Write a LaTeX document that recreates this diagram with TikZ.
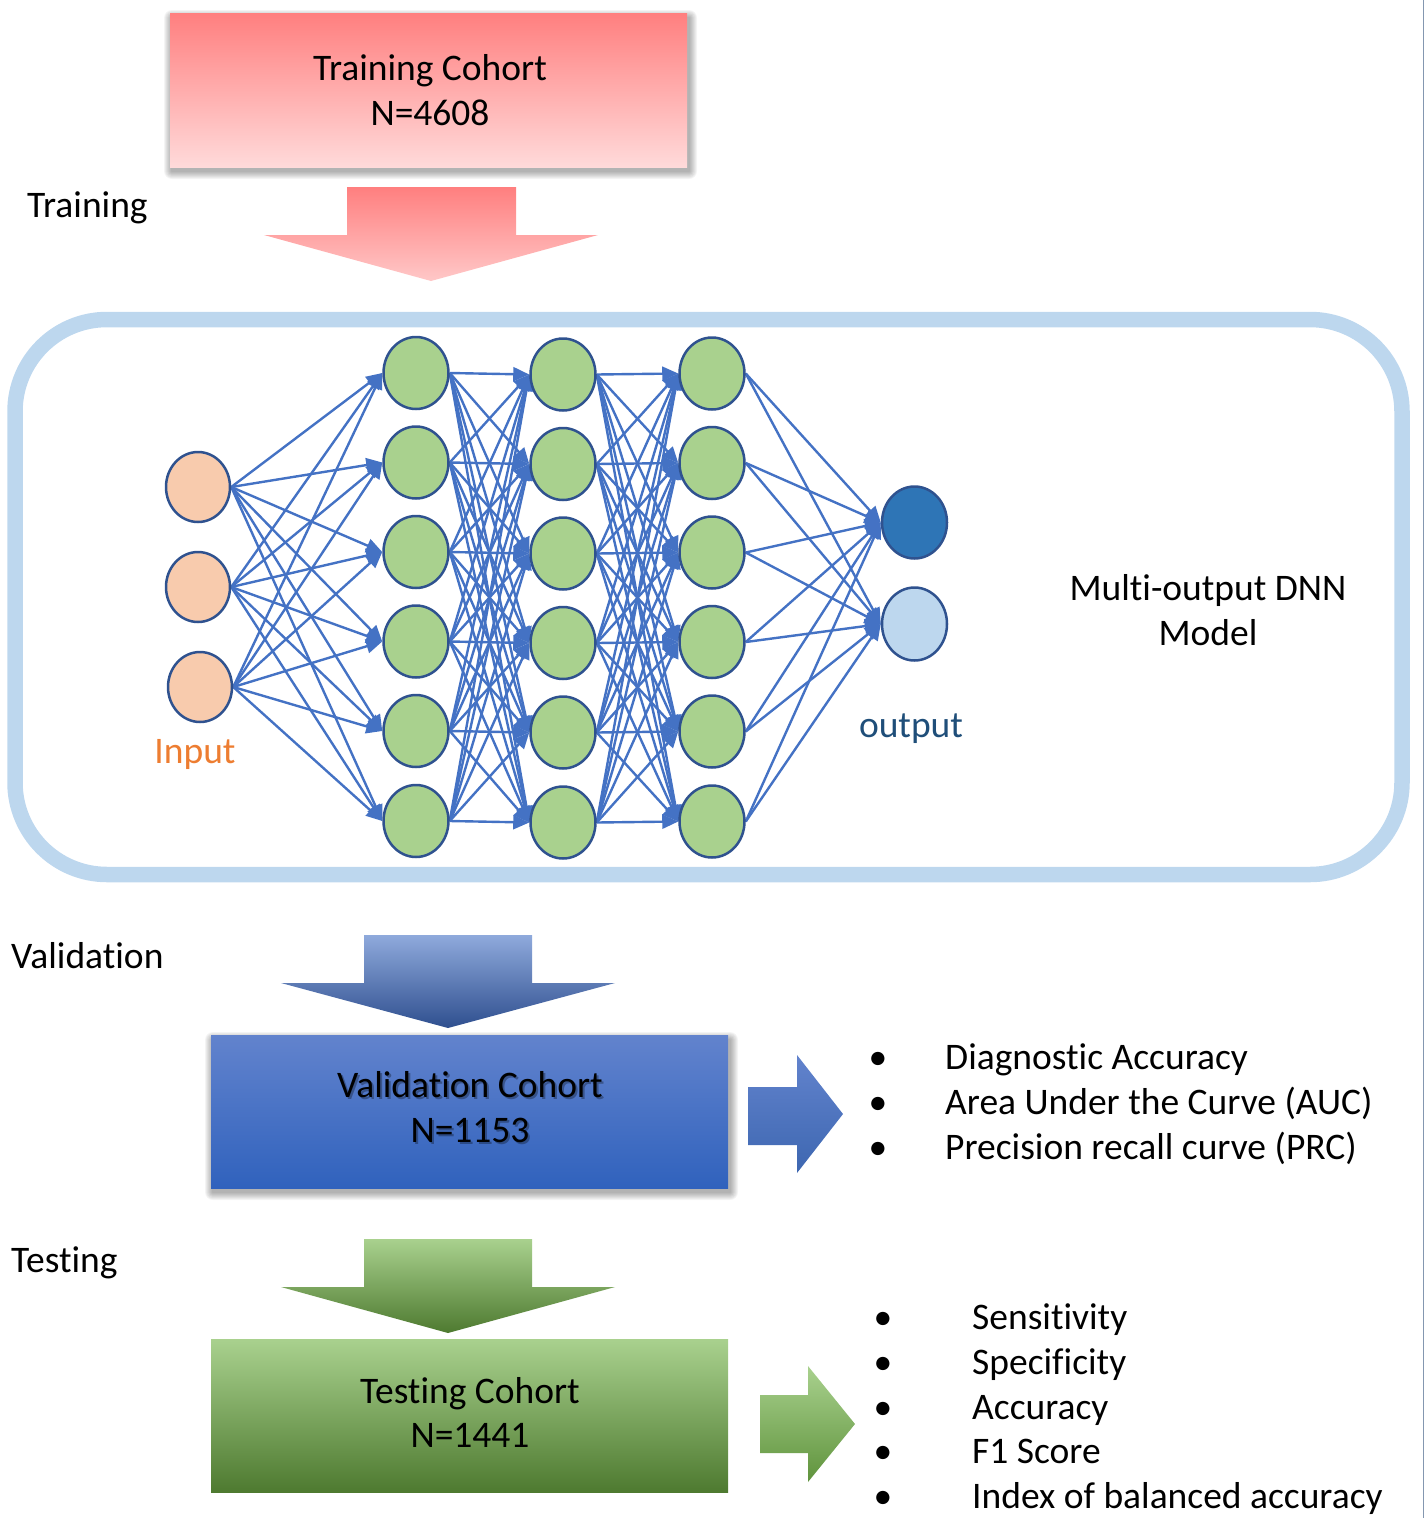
\documentclass[tikz,border=0pt]{standalone}
\usepackage{fontspec}
\setmainfont{Carlito}[Ligatures=NoCommon]
\usetikzlibrary{shapes.geometric,arrows.meta}

\definecolor{edgeblue}{HTML}{4472C4}
\definecolor{ringblue}{HTML}{2F528F}
\definecolor{inputfill}{HTML}{F8CBAD}
\definecolor{hiddenfill}{HTML}{A9D18E}
\definecolor{outdark}{HTML}{2E75B6}
\definecolor{outlight}{HTML}{BDD7EE}
\definecolor{frameblue}{HTML}{BDD7EE}
\definecolor{inputtext}{HTML}{ED7D31}
\definecolor{outputtext}{HTML}{1F4E79}
\definecolor{rulegray}{HTML}{8497B0}
\definecolor{redtop}{HTML}{FF7F7F}
\definecolor{redbot}{HTML}{FFDADA}
\definecolor{bluetop}{HTML}{8FAADC}
\definecolor{bluemid}{HTML}{4472C4}
\definecolor{bluebot}{HTML}{2F4F8F}
\definecolor{boxbluetop}{HTML}{6283CD}
\definecolor{boxbluebot}{HTML}{3062BD}
\definecolor{greentop}{HTML}{A9D18E}
\definecolor{greenmid}{HTML}{70AD47}
\definecolor{greenbot}{HTML}{4E7A30}

\pgfdeclarelayer{bg}
\pgfsetlayers{bg,main}

\begin{document}
\begin{tikzpicture}[x=1pt,y=-1pt,
  txt/.style={font=\fontsize{37.5pt}{45pt}\selectfont, inner sep=0pt},
  neuron/.style={ellipse, draw=ringblue, line width=2.5pt, inner sep=0pt,
    minimum width=65pt, minimum height=72pt},
  innode/.style={neuron, fill=inputfill, minimum width=64pt, minimum height=70pt},
  hidnode/.style={neuron, fill=hiddenfill},
  conn/.style={draw=edgeblue, line width=2.4pt, -{Triangle[length=16pt,width=14pt]}},
  cohort/.style={rectangle, inner sep=0pt, minimum width=517pt, minimum height=153pt},
  shadowlayer/.style={fill=black, opacity=0.045}
]
\useasboundingbox (0,0) rectangle (1425,1518);

% thin rule along the right edge
\draw[rulegray, line width=1.5pt] (1423.5,0) -- (1423.5,1518);

% ---------- training ----------
% soft shadow under the cohort box
\foreach \k in {1,...,8}{
  \fill[shadowlayer, rounded corners=\k pt] (172-\k,18-\k) rectangle (689+\k,171+\k);
}
\node[cohort, minimum height=154pt, top color=redtop, bottom color=redbot]
  (train) at (428.5,90) {};
\node[txt, anchor=base] (trainA) at (430,80) {Training Cohort};
\node[txt, anchor=base] (trainB) at (430,125) {N=4608};
\node[txt, anchor=base west] (trainlbl) at (27,217) {Training};
\shade[top color=redtop, bottom color=redbot!80!redtop]
  (347,187) -- (516,187) -- (516,235) -- (598,235) -- (431,281) -- (264,235) -- (347,235) -- cycle;

% ---------- network frame ----------
\draw[frameblue, line width=15.5pt, rounded corners=92pt] (15,319.5) rectangle (1402,874.5);

% ---------- neurons ----------
\node[innode] (in1) at (198,487) {};
\node[innode] (in2) at (198,587) {};
\node[innode] (in3) at (200,687) {};
\foreach \i/\y in {1/373,2/462.5,3/552,4/641.5,5/731,6/821}{
  \node[hidnode] (a\i) at (416,\y) {};
  \node[hidnode] (b\i) at (563,\y+1.5) {};
  \node[hidnode] (c\i) at (712,\y+0.5) {};
}
\node[neuron, fill=outdark] (o1) at (914.5,522.5) {};
\node[neuron, fill=outlight, minimum height=73pt] (o2) at (914.5,624) {};

% ---------- connections ----------
\begin{pgfonlayer}{bg}
\foreach \s in {1,2,3}{
  \foreach \t in {1,...,6}{
    \draw[conn] (in\s.east) -- (a\t.west);
  }
}
\foreach \s in {1,...,6}{
  \foreach \t in {1,...,6}{
    \draw[conn] (a\s.east) -- (b\t.west);
    \draw[conn] (b\s.east) -- (c\t.west);
  }
  \draw[conn] (c\s.east) -- (o1.west);
  \draw[conn] (c\s.east) -- (o2.west);
}
\end{pgfonlayer}

\node[txt, anchor=base, text=inputtext] (inlbl) at (195,763) {Input};
\node[txt, anchor=base, text=outputtext] (outlbl) at (911,737) {output};
\node[txt, anchor=base] (modelA) at (1208,600) {Multi-output DNN};
\node[txt, anchor=base] (modelB) at (1208,645) {Model};

% ---------- validation ----------
\node[txt, anchor=base west] (vallbl) at (11,968.5) {Validation};
\shade[top color=bluetop, middle color=bluemid, bottom color=bluebot]
  (364,935) -- (532,935) -- (532,983) -- (615,983) -- (448,1028) -- (281,983) -- (364,983) -- cycle;
\foreach \k in {1,...,8}{
  \fill[shadowlayer, rounded corners=\k pt] (213-\k,1040-\k) rectangle (730+\k,1192+\k);
}
\node[cohort, top color=boxbluetop, bottom color=boxbluebot]
  (val) at (469.5,1111.5) {};
\node[txt, anchor=base, text=black, opacity=0.3] (valAs) at (472,1099.5) {Validation Cohort};
\node[txt, anchor=base, text=black, opacity=0.3] (valBs) at (472,1144.5) {N=1153};
\node[txt, anchor=base] (valA) at (470,1097) {Validation Cohort};
\node[txt, anchor=base] (valB) at (470,1142) {N=1153};
\shade[top color=boxbluetop, bottom color=bluemid!90!black]
  (748,1087) -- (797,1087) -- (797,1055) -- (843,1114) -- (797,1173) -- (797,1145) -- (748,1145) -- cycle;

\foreach \n/\t/\y in {v1/Diagnostic Accuracy/1069, v2/Area Under the Curve (AUC)/1114, v3/Precision recall curve (PRC)/1159}{
  \node[txt, anchor=base] (\n b) at (878,\y) {•};
  \node[txt, anchor=base west] (\n t) at (945,\y) {\t};
}

% ---------- testing ----------
\node[txt, anchor=base west] (testlbl) at (11,1272) {Testing};
\shade[top color=greentop, middle color=greenmid, bottom color=greenbot]
  (364,1239) -- (532,1239) -- (532,1287) -- (615,1287) -- (448,1333) -- (281,1287) -- (364,1287) -- cycle;
\node[cohort, top color=greentop, middle color=greenmid, bottom color=greenbot]
  (test) at (469.5,1415.5) {};
\node[txt, anchor=base] (testA) at (470,1403) {Testing Cohort};
\node[txt, anchor=base] (testB) at (470,1447) {N=1441};
\shade[top color=greentop, middle color=greenmid, bottom color=greenmid!85!black]
  (760,1395) -- (808,1395) -- (808,1366) -- (855,1424) -- (808,1482) -- (808,1453) -- (760,1453) -- cycle;

\foreach \n/\t/\y in {t1/Sensitivity/1329, t2/Specificity/1374, t3/Accuracy/1419, t4/F1 Score/1463, t5/Index of balanced accuracy/1508}{
  \node[txt, anchor=base] (\n b) at (883,\y) {•};
  \node[txt, anchor=base west] (\n t) at (972,\y) {\t};
}
\end{tikzpicture}
\end{document}
